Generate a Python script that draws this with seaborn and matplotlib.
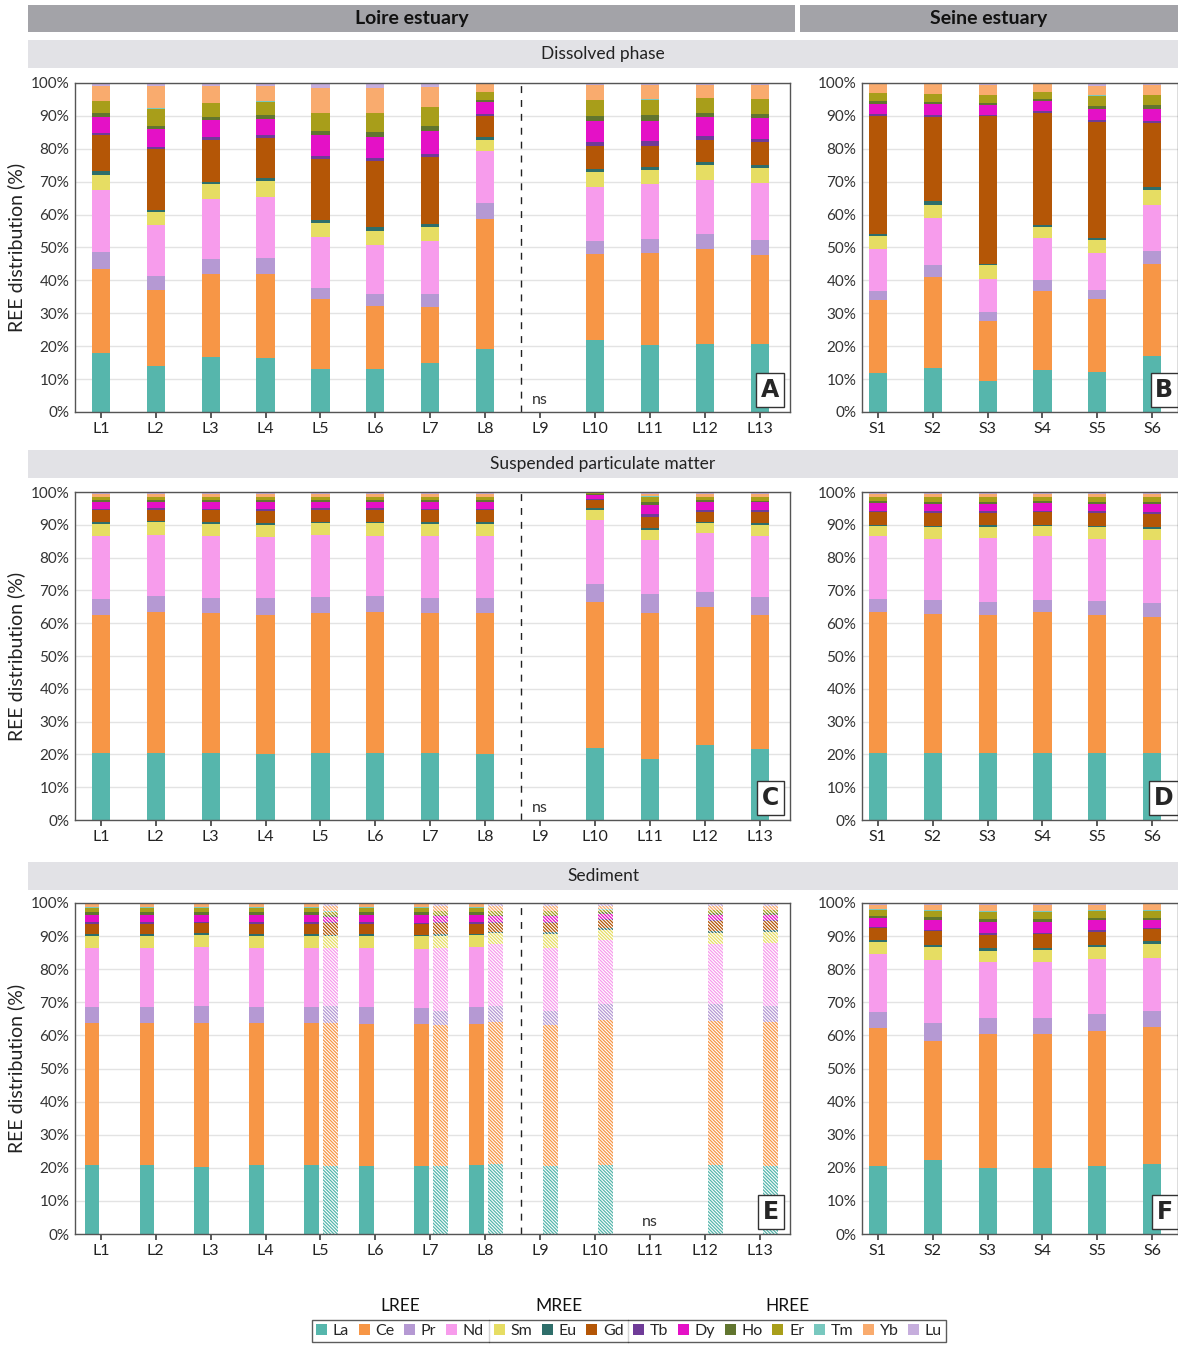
import numpy as np
import matplotlib
matplotlib.use("Agg")
import matplotlib.pyplot as plt
import seaborn as sns
from matplotlib.patches import Patch, Rectangle
from matplotlib.lines import Line2D

sns.set_theme(style="white")
plt.rcParams['font.family'] = ['Lato', 'DejaVu Sans']
plt.rcParams['hatch.linewidth'] = 0.9

elements = ['La', 'Ce', 'Pr', 'Nd', 'Sm', 'Eu', 'Gd', 'Tb', 'Dy', 'Ho', 'Er', 'Tm', 'Yb', 'Lu']
colors = ['#56B6AC', '#F79646', '#B599D3', '#F79CEC', '#E6DD63', '#2E6E6A', '#B45606',
          '#6F3B98', '#E411C6', '#61752F', '#A89E1A', '#78C8BF', '#F9AB6E', '#C6AEDD']

loire = ['L1', 'L2', 'L3', 'L4', 'L5', 'L6', 'L7', 'L8', 'L9', 'L10', 'L11', 'L12', 'L13']
seine = ['S1', 'S2', 'S3', 'S4', 'S5', 'S6']

# cumulative tops (%) of La..Yb for each bar; Lu fills to 100; None = not sampled
diss_loire = [
    [17.8, 43.6, 48.7, 67.5, 72.0, 73.2, 84.3, 84.9, 89.8, 91.0, 94.5, 94.6, 99.2],
    [14.0, 37.2, 41.2, 56.7, 60.7, 61.5, 80.0, 80.6, 85.9, 87.0, 92.2, 92.3, 99.0],
    [16.6, 41.8, 46.6, 64.6, 69.2, 70.0, 82.8, 83.5, 88.7, 89.8, 93.9, 94.0, 99.2],
    [16.4, 42.0, 46.7, 65.3, 70.2, 71.2, 83.3, 84.1, 89.1, 90.2, 94.3, 94.4, 99.2],
    [13.0, 34.2, 37.8, 53.1, 57.3, 58.4, 76.9, 77.8, 84.1, 85.3, 90.9, 91.0, 98.4],
    [13.0, 32.2, 35.9, 50.9, 55.0, 56.3, 76.3, 77.2, 83.6, 85.1, 90.9, 91.0, 98.4],
    [14.8, 32.0, 35.9, 52.0, 56.1, 57.1, 77.6, 78.5, 85.3, 87.0, 92.6, 92.7, 98.8],
    [19.2, 58.8, 63.4, 79.3, 82.8, 83.7, 90.1, 90.5, 94.2, 94.9, 97.3, 97.4, 99.6],
    None,
    [21.9, 47.9, 51.9, 68.5, 73.0, 74.0, 81.0, 82.0, 88.5, 90.0, 94.7, 94.8, 99.3],
    [20.4, 48.3, 52.5, 69.2, 73.5, 74.4, 81.0, 82.3, 88.6, 90.2, 94.9, 95.0, 99.3],
    [20.6, 49.6, 54.0, 70.5, 75.0, 76.0, 82.8, 83.8, 89.6, 91.0, 95.4, 95.5, 99.5],
    [20.6, 47.7, 52.3, 69.7, 74.1, 75.1, 82.0, 83.0, 89.3, 90.7, 95.1, 95.2, 99.5],
]
diss_seine = [
    [11.9, 33.9, 36.9, 49.4, 53.5, 54.1, 89.9, 90.5, 93.7, 94.5, 97.0, 97.1, 99.7],
    [13.5, 41.1, 44.7, 59.0, 63.0, 64.0, 89.8, 90.3, 93.7, 94.3, 96.7, 96.8, 99.7],
    [9.5, 27.7, 30.3, 40.4, 44.7, 45.1, 89.9, 90.3, 93.2, 93.8, 96.4, 96.5, 99.3],
    [12.8, 36.8, 40.1, 52.8, 56.1, 56.8, 91.0, 91.4, 94.6, 95.2, 97.3, 97.4, 99.7],
    [12.1, 34.2, 37.0, 48.4, 52.2, 52.9, 88.0, 88.8, 92.2, 93.1, 96.2, 96.3, 99.2],
    [16.9, 45.0, 48.8, 62.9, 67.6, 68.5, 87.7, 88.3, 92.1, 93.4, 96.4, 96.5, 99.4],
]
spm_loire = [
    [20.5, 62.5, 67.3, 86.5, 90.3, 90.9, 94.4, 94.9, 97.0, 97.5, 98.5, 98.6, 99.5],
    [20.5, 63.5, 68.3, 87.0, 90.8, 91.3, 94.6, 95.1, 97.1, 97.6, 98.5, 98.6, 99.5],
    [20.5, 63.0, 67.8, 86.5, 90.3, 90.9, 94.4, 94.9, 97.0, 97.5, 98.5, 98.6, 99.5],
    [20.2, 62.5, 67.6, 86.3, 90.0, 90.6, 94.3, 94.8, 97.0, 97.5, 98.5, 98.6, 99.5],
    [20.5, 63.2, 68.0, 86.8, 90.5, 91.0, 94.5, 95.0, 97.0, 97.5, 98.5, 98.6, 99.5],
    [20.5, 63.3, 68.3, 86.7, 90.5, 91.0, 94.5, 95.0, 97.0, 97.5, 98.5, 98.6, 99.5],
    [20.5, 63.0, 67.8, 86.5, 90.3, 90.9, 94.4, 94.9, 97.0, 97.5, 98.5, 98.6, 99.5],
    [20.2, 63.0, 67.8, 86.5, 90.3, 90.9, 94.4, 94.9, 97.0, 97.5, 98.5, 98.6, 99.5],
    None,
    [22.0, 66.5, 72.0, 91.5, 94.5, 95.0, 97.5, 98.0, 99.0, 99.3, 99.6, 99.7, 99.9],
    [18.5, 63.0, 68.8, 85.5, 88.5, 89.0, 92.5, 93.2, 96.0, 97.0, 98.5, 98.7, 99.5],
    [22.8, 65.0, 69.5, 87.5, 90.5, 91.0, 94.0, 94.5, 96.8, 97.5, 98.5, 98.6, 99.5],
    [21.5, 62.5, 68.0, 86.5, 90.0, 90.6, 94.0, 94.6, 96.8, 97.4, 98.5, 98.6, 99.5],
]
spm_seine = [
    [20.5, 63.3, 67.3, 86.5, 89.5, 90.0, 93.8, 94.3, 96.5, 97.2, 98.5, 98.6, 99.5],
    [20.5, 62.8, 67.0, 85.8, 89.2, 89.7, 93.6, 94.1, 96.4, 97.1, 98.5, 98.6, 99.5],
    [20.5, 62.5, 66.5, 86.0, 89.3, 89.8, 93.7, 94.2, 96.4, 97.1, 98.5, 98.6, 99.5],
    [20.5, 63.3, 67.0, 86.5, 89.5, 90.0, 93.8, 94.3, 96.5, 97.2, 98.5, 98.6, 99.5],
    [20.5, 62.5, 66.8, 85.8, 89.2, 89.7, 93.6, 94.1, 96.4, 97.1, 98.5, 98.6, 99.5],
    [20.5, 62.0, 66.3, 85.5, 88.8, 89.3, 93.4, 93.9, 96.3, 97.0, 98.5, 98.6, 99.5],
]
sed_std = [20.7, 63.6, 68.5, 86.5, 90.0, 90.7, 93.8, 94.2, 96.5, 97.2, 98.5, 98.7, 99.8]
sed_loire_solid = [sed_std, sed_std, [20.3, 63.8, 68.8, 86.8, 90.2, 90.8, 93.9, 94.3, 96.5, 97.2, 98.5, 98.7, 99.8],
                   sed_std, sed_std, [20.5, 63.4, 68.5, 86.5, 90.0, 90.6, 93.8, 94.2, 96.5, 97.2, 98.5, 98.7, 99.8],
                   [20.5, 63.5, 68.3, 86.2, 90.0, 90.4, 93.6, 94.0, 96.5, 97.2, 98.5, 98.7, 99.8],
                   [20.8, 63.5, 68.5, 86.8, 90.2, 90.7, 93.8, 94.2, 96.5, 97.2, 98.5, 98.7, 99.8],
                   None, None, None, None, None]
sed_loire_hatch = [None, None, None, None,
                   [20.5, 63.8, 68.8, 86.5, 90.0, 90.4, 93.9, 94.2, 95.9, 96.4, 97.3, 97.5, 99.0],
                   None,
                   [20.5, 63.0, 67.5, 86.5, 90.0, 90.5, 94.0, 94.3, 96.0, 96.5, 97.5, 97.7, 99.0],
                   [21.0, 64.0, 69.0, 87.5, 90.9, 91.3, 94.0, 94.3, 96.0, 96.5, 97.5, 97.7, 99.0],
                   [20.5, 63.0, 67.5, 86.5, 90.7, 91.2, 94.0, 94.3, 96.0, 96.5, 97.5, 97.7, 99.0],
                   [20.7, 64.6, 69.6, 88.8, 91.9, 92.4, 94.9, 95.2, 96.8, 97.2, 98.0, 98.2, 99.2],
                   None,
                   [20.9, 64.5, 69.5, 87.5, 91.0, 91.5, 94.6, 95.0, 96.5, 97.0, 97.8, 98.0, 99.0],
                   [20.5, 64.0, 69.0, 87.9, 91.3, 91.8, 94.5, 94.8, 96.5, 97.0, 97.8, 98.0, 99.0]]
sed_seine = [
    [20.5, 62.2, 67.2, 84.5, 88.1, 88.7, 92.5, 92.9, 95.5, 96.2, 97.8, 98.1, 99.5],
    [22.5, 58.3, 63.6, 82.7, 86.6, 87.3, 91.5, 91.9, 95.0, 95.7, 97.6, 97.9, 99.5],
    [20.0, 60.5, 65.3, 82.2, 85.6, 86.4, 90.4, 90.8, 94.4, 95.1, 97.2, 97.6, 99.3],
    [20.0, 60.5, 65.3, 82.2, 85.9, 86.5, 90.6, 91.0, 94.4, 95.1, 97.3, 97.6, 99.4],
    [20.5, 61.4, 66.5, 83.0, 86.6, 87.3, 91.3, 91.8, 94.8, 95.5, 97.5, 97.8, 99.4],
    [21.2, 62.4, 67.4, 83.5, 87.6, 88.5, 92.0, 92.5, 94.9, 95.6, 97.5, 97.8, 99.6],
]

W, H = 1178, 1345
fig = plt.figure(figsize=(W / 100, H / 100), dpi=100)


def px_axes(x0, y0, x1, y1):
    return fig.add_axes([x0 / W, 1 - y1 / H, (x1 - x0) / W, (y1 - y0) / H])


def stack(ax, pos, tops, width, hatch=False):
    bounds = [0.0] + list(tops) + [100.0]
    for i, el in enumerate(elements):
        h = bounds[i + 1] - bounds[i]
        if hatch:
            ax.bar(pos, h, bottom=bounds[i], width=width, color='white',
                   edgecolor=colors[i], hatch='\\' * 10, linewidth=0)
        else:
            ax.bar(pos, h, bottom=bounds[i], width=width, color=colors[i], linewidth=0)


def style(ax, labels, xlim, letter, ylabel):
    ax.set_xlim(*xlim)
    ax.set_ylim(0, 100)
    ax.set_yticks(np.arange(0, 101, 10))
    ax.set_yticklabels([f"{v}%" for v in range(0, 101, 10)], fontsize=11, color='#333333')
    ax.set_xticks(range(len(labels)))
    ax.set_xticklabels(labels, fontsize=11.5, color='#222222')
    ax.tick_params(axis='x', length=4, color='#444444', direction='out', bottom=True)
    ax.tick_params(axis='y', length=0, pad=4)
    ax.yaxis.grid(True, color='#e3e3e3', linewidth=1)
    ax.set_axisbelow(True)
    for s in ax.spines.values():
        s.set_color('#555555')
        s.set_linewidth(1)
    ax.text(0.985, 0.03, letter, transform=ax.transAxes, ha='right', va='bottom',
            fontsize=17, fontweight='bold', family='DejaVu Sans',
            bbox=dict(boxstyle='square,pad=0.2', fc='white', ec='#333333', lw=1))
    if ylabel:
        ax.set_ylabel('REE distribution (%)', fontsize=14, color='#222222', labelpad=4)


rows = [(83, 412, diss_loire, None, diss_seine, 'A', 'B', 'ns', 8),
        (492, 820, spm_loire, None, spm_seine, 'C', 'D', 'ns', 8),
        (903, 1234, sed_loire_solid, sed_loire_hatch, sed_seine, 'E', 'F', 'ns', 10)]

for y0, y1, left, hatched, right, la, lb, ns, ns_pos in rows:
    axl = px_axes(75, y0, 790, y1)
    if hatched is None:
        for i, tops in enumerate(left):
            if tops is not None:
                stack(axl, i, tops, 0.33)
    else:
        for i, tops in enumerate(left):
            if tops is not None:
                stack(axl, i - 0.16, tops, 0.27)
        for i, tops in enumerate(hatched):
            if tops is not None:
                stack(axl, i + 0.19, tops, 0.27, hatch=True)
    axl.axvline(7.65, color='#222222', linestyle=(0, (5, 5)), linewidth=1)
    axl.text(ns_pos, 1.5, ns, ha='center', va='bottom', fontsize=11.5, color='#333333')
    style(axl, loire, (-0.47, 12.55), la, True)

    axr = px_axes(862, y0, 1178, y1)
    for i, tops in enumerate(right):
        stack(axr, i, tops, 0.33)
    style(axr, seine, (-0.29, 5.47), lb, False)

# header bands
def band(x0, y0, x1, y1, fc, text, size, weight, tc):
    fig.patches.append(Rectangle((x0 / W, 1 - y1 / H), (x1 - x0) / W, (y1 - y0) / H,
                                 transform=fig.transFigure, fc=fc, ec='none'))
    fig.text((x0 + x1) / 2 / W, 1 - (y0 + y1) / 2 / H, text, ha='center', va='center',
             fontsize=size, fontweight=weight, color=tc)


band(28, 5, 795, 32, '#A3A3A8', 'Loire estuary', 14, 'bold', '#111111')
band(800, 5, 1178, 32, '#A3A3A8', 'Seine estuary', 14, 'bold', '#111111')
band(28, 40, 1178, 68, '#E2E2E6', 'Dissolved phase', 12.5, 'normal', '#222222')
band(28, 450, 1178, 478, '#E2E2E6', 'Suspended particulate matter', 12.5, 'normal', '#222222')
band(28, 862, 1178, 890, '#E2E2E6', 'Sediment', 12.5, 'normal', '#222222')

# legend
handles = [Patch(facecolor=c, edgecolor='none') for c in colors]
leg = fig.legend(handles, elements, loc='center', bbox_to_anchor=(629 / W, 1 - 1331 / H),
                 ncol=14, fontsize=11.5, frameon=True, handlelength=0.7, handleheight=0.7,
                 handletextpad=0.35, columnspacing=0.6, borderpad=0.25, fancybox=False)
leg.get_frame().set_edgecolor('#333333')
leg.get_frame().set_linewidth(1)

fig.canvas.draw()
renderer = fig.canvas.get_renderer()
texts = leg.get_texts()
hnd = leg.legend_handles
fb = leg.get_frame().get_window_extent(renderer)


def sep_x(k):
    right = texts[k - 1].get_window_extent(renderer).x1
    left = hnd[k].get_window_extent(renderer).x0
    return (right + left) / 2 / fig.bbox.width


xs = [sep_x(4), sep_x(7)]
for x in xs:
    fig.add_artist(Line2D([x, x], [fb.y0 / fig.bbox.height, fb.y1 / fig.bbox.height],
                          color='#333333', lw=1))
x0f, x1f = fb.x0 / fig.bbox.width, fb.x1 / fig.bbox.width
centers = [(x0f + xs[0]) / 2, (xs[0] + xs[1]) / 2, (xs[1] + x1f) / 2]
for x, t in zip(centers, ('LREE', 'MREE', 'HREE')):
    fig.text(x, 1 - 1306 / H, t, ha='center', va='center', fontsize=12.5, color='#111111')

fig.savefig('out.png', dpi=100)
